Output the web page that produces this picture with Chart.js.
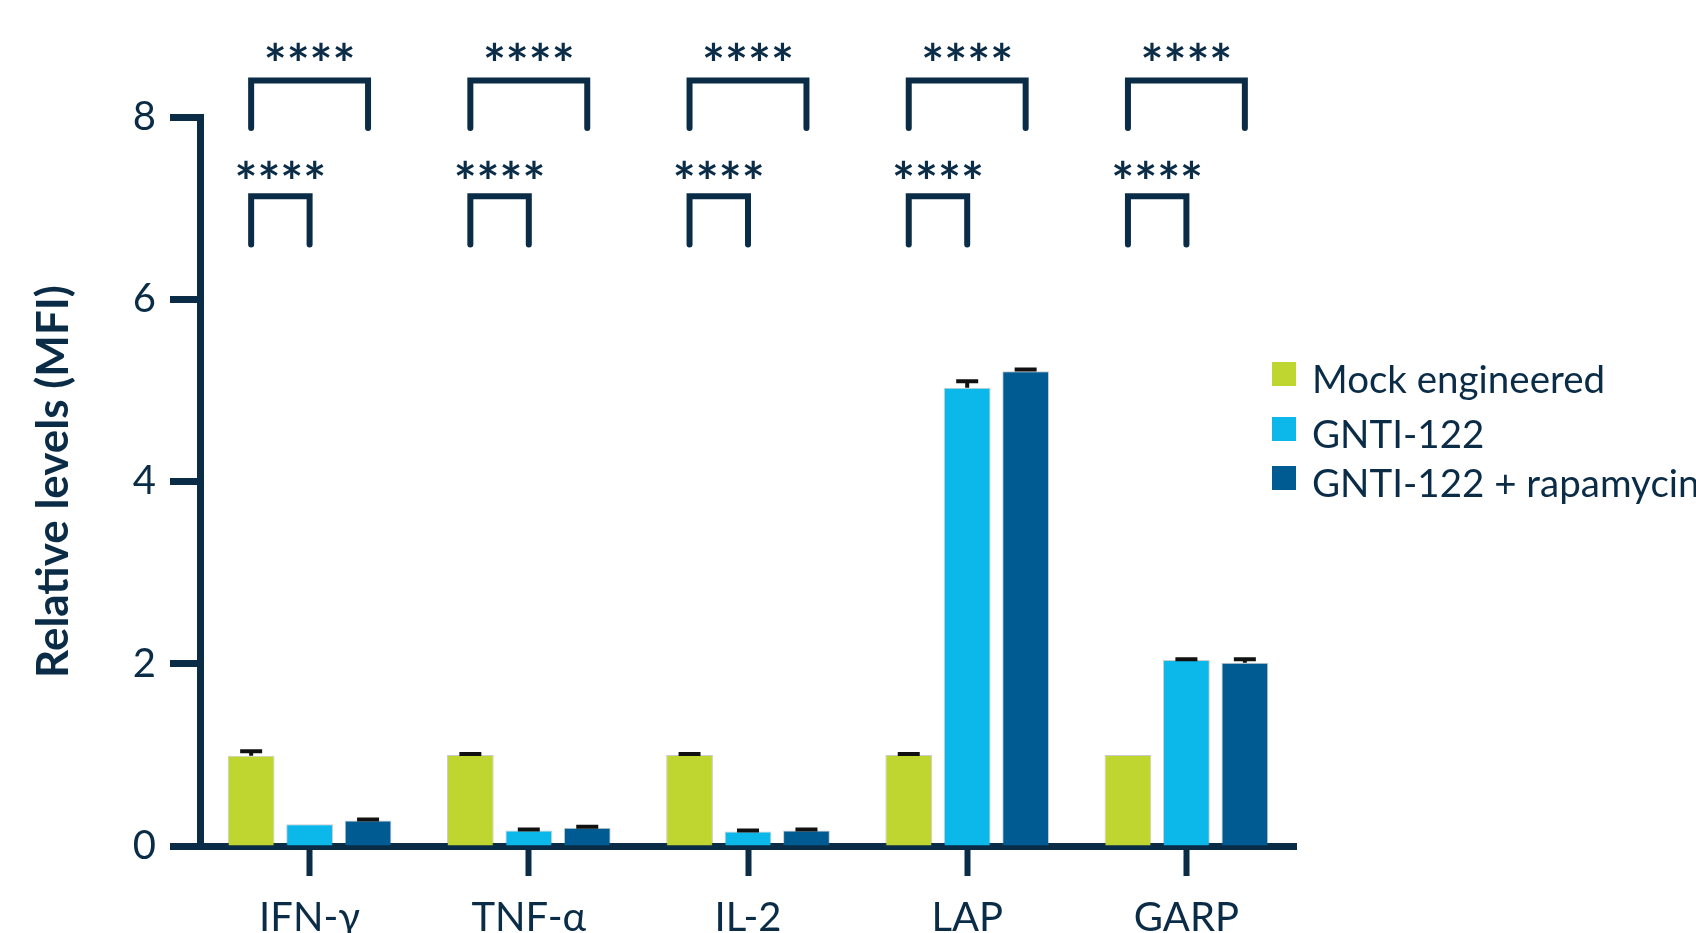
<!DOCTYPE html>
<html>
<head>
<meta charset="utf-8">
<script src="https://cdn.jsdelivr.net/npm/chart.js@4.4.1/dist/chart.umd.min.js"></script>
<style>
  html, body { margin: 0; padding: 0; background: #fff; overflow: hidden; }
  canvas { display: block; }
</style>
</head>
<body>
<canvas id="chart" width="1696" height="980"></canvas>
<script>
// data
var categories = ['IFN-\u03b3', 'TNF-\u03b1', 'IL-2', 'LAP', 'GARP'];
var seriesNames = ['Mock engineered', 'GNTI-122', 'GNTI-122 + rapamycin'];
var mockValues = [0.99, 1.0, 1.0, 1.0, 1.0];
var mockErrors = [0.05, 0.01, 0.01, 0.01, 0];
var gntiValues = [0.24, 0.17, 0.16, 5.03, 2.04];
var gntiErrors = [0, 0.01, 0.01, 0.07, 0.01];
var rapaValues = [0.28, 0.2, 0.17, 5.21, 2.01];
var rapaErrors = [0.01, 0.01, 0.01, 0.02, 0.04];
var yTicks = [0, 2, 4, 6, 8];
var sigLabel = '****';

var ink = '#0b2c47';
var colors = ['#bfd630', '#0cb7ea', '#005b93'];
var fontFam = 'Lato, "Open Sans", sans-serif';
var errors = [mockErrors, gntiErrors, rapaErrors];

Chart.defaults.font.family = fontFam;
Chart.defaults.color = ink;

var errorBars = {
    id: 'errorBars',
    afterDatasetsDraw: function (chart) {
        var ctx = chart.ctx;
        var y = chart.scales.y;
        ctx.save();
        ctx.strokeStyle = '#111';
        ctx.lineWidth = 4;
        chart.data.datasets.forEach(function (ds, i) {
            var meta = chart.getDatasetMeta(i);
            meta.data.forEach(function (bar, j) {
                var err = errors[i][j];
                if (!err) return;
                var top = y.getPixelForValue(ds.data[j] + err);
                ctx.beginPath();
                ctx.moveTo(bar.x, bar.y);
                ctx.lineTo(bar.x, top);
                ctx.moveTo(bar.x - 11, top);
                ctx.lineTo(bar.x + 11, top);
                ctx.stroke();
            });
        });
        ctx.restore();
    }
};

var brackets = {
    id: 'brackets',
    afterDraw: function (chart) {
        var ctx = chart.ctx;
        var y = chart.scales.y;
        var m0 = chart.getDatasetMeta(0), m1 = chart.getDatasetMeta(1), m2 = chart.getDatasetMeta(2);
        ctx.save();
        ctx.strokeStyle = ink;
        ctx.fillStyle = ink;
        ctx.lineWidth = 6;
        ctx.lineCap = 'round';
        ctx.lineJoin = 'miter';
        ctx.font = 'bold 54px ' + fontFam;
        ctx.letterSpacing = '0px';
        ctx.textAlign = 'center';
        ctx.textBaseline = 'alphabetic';
        var tm = ctx.measureText(sigLabel);
        var mid = (tm.actualBoundingBoxAscent - tm.actualBoundingBoxDescent) / 2;
        function bracket(x1, x2, top, foot, starsAt) {
            ctx.beginPath();
            ctx.moveTo(x1, y.getPixelForValue(foot));
            ctx.lineTo(x1, y.getPixelForValue(top));
            ctx.lineTo(x2, y.getPixelForValue(top));
            ctx.lineTo(x2, y.getPixelForValue(foot));
            ctx.stroke();
            ctx.fillText(sigLabel, (x1 + x2) / 2, y.getPixelForValue(starsAt) + mid);
        }
        categories.forEach(function (c, j) {
            var g = m0.data[j].x, b = m1.data[j].x, d = m2.data[j].x;
            bracket(g, d, 8.40, 7.88, 8.72);
            bracket(g, b, 7.13, 6.60, 7.42);
        });
        ctx.restore();
    }
};

var sideLegend = {
    id: 'sideLegend',
    afterDraw: function (chart) {
        var ctx = chart.ctx;
        var rows = [393, 448, 497];
        ctx.save();
        ctx.font = '38.5px ' + fontFam;
        ctx.textBaseline = 'alphabetic';
        ctx.textAlign = 'left';
        seriesNames.forEach(function (name, i) {
            ctx.fillStyle = colors[i];
            ctx.fillRect(1272, rows[i] - 31, 24, 24);
            ctx.fillStyle = ink;
            ctx.fillText(name, 1312, rows[i]);
        });
        ctx.restore();
    }
};

var chart = new Chart(document.getElementById('chart').getContext('2d'), {
    type: 'bar',
    data: {
        labels: categories,
        datasets: [
            { label: seriesNames[0], data: mockValues, backgroundColor: colors[0] },
            { label: seriesNames[1], data: gntiValues, backgroundColor: colors[1] },
            { label: seriesNames[2], data: rapaValues, backgroundColor: colors[2] }
        ].map(function (d) {
            d.borderColor = 'rgba(110,110,110,0.35)';
            d.borderWidth = 1;
            d.categoryPercentage = 0.8;
            d.barPercentage = 0.8;
            return d;
        })
    },
    plugins: [errorBars, brackets, sideLegend],
    options: {
        responsive: false,
        animation: false,
        devicePixelRatio: 1,
        layout: { padding: { top: 117, right: 400, left: 0, bottom: 0 } },
        plugins: {
            legend: { display: false },
            tooltip: { enabled: false }
        },
        scales: {
            x: {
                border: { display: true, color: ink, width: 7 },
                grid: { offset: false, drawOnChartArea: false, drawTicks: true, tickLength: 30, tickWidth: 6, tickColor: ink },
                ticks: { color: ink, font: { size: 40 }, padding: 18, maxRotation: 0 },
                afterFit: function (scale) { scale.height = 134; }
            },
            y: {
                min: 0,
                max: 8,
                afterBuildTicks: function (scale) {
                    scale.ticks = yTicks.map(function (v) { return { value: v }; });
                },
                border: { display: true, color: ink, width: 7 },
                grid: { drawOnChartArea: false, drawTicks: true, tickLength: 30, tickWidth: 7, tickColor: ink },
                ticks: { color: ink, font: { size: 40 }, padding: 14 },
                title: {
                    display: true,
                    text: 'Relative levels (MFI)',
                    color: ink,
                    font: { size: 44, weight: 'bold' },
                    padding: { top: 27, bottom: 0 }
                },
                afterFit: function (scale) { scale.width = 200; }
            }
        }
    }
});
</script>
</body>
</html>
